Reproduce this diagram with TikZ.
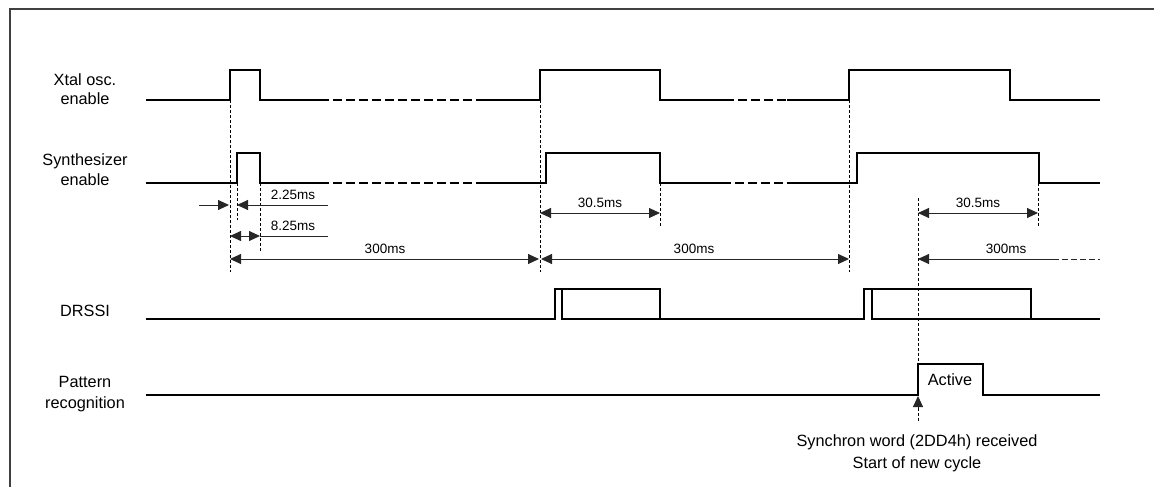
\documentclass[tikz,border=0pt]{standalone}
\usepackage{fontspec}
\setmainfont{Liberation Sans}
\usetikzlibrary{arrows.meta}

\begin{document}
\begin{tikzpicture}[
  x=1pt,
  y=-1pt,
  line join=miter,
  frameline/.style={draw=black!75,line width=1.2pt},
  signal/.style={draw=black,line width=1.2pt},
  gapline/.style={draw=black,line width=1.2pt,dash pattern=on 9pt off 4pt},
  guide/.style={draw=black,line width=0.8pt,dash pattern=on 3pt off 2pt},
  dim/.style={draw=black!85,line width=1pt},
  tip/.tip={Triangle[length=11pt,width=10pt]},
  rowlabel/.style={font=\fontsize{16.3}{19}\selectfont,inner sep=0pt},
  dimlabel/.style={font=\fontsize{13.5}{16}\selectfont,inner sep=0pt},
  note/.style={font=\fontsize{16.3}{19}\selectfont,inner sep=0pt}
]
  \useasboundingbox (0,0) rectangle (1154,487);
  \draw[frameline] (10,487) -- (10,9) -- (1154,9);

  % Row labels.
  \node[rowlabel] (xtal1) at (85,80) {Xtal osc.};
  \node[rowlabel] (xtal2) at (85,99) {enable};
  \node[rowlabel] (synth1) at (85,161) {Synthesizer};
  \node[rowlabel] (synth2) at (85,180) {enable};
  \node[rowlabel] (drssi) at (85,311) {DRSSI};
  \node[rowlabel] (patt1) at (85,382) {Pattern};
  \node[rowlabel] (patt2) at (85,404) {recognition};

  % Xtal oscillator enable.
  \draw[signal] (146,100) -- (230,100) -- (230,70) -- (260,70) -- (260,100) -- (320,100);
  \draw[gapline] (320,100) -- (480,100);
  \draw[signal] (480,100) -- (540,100) -- (540,70) -- (660,70) -- (660,100) -- (725,100);
  \draw[gapline] (725,100) -- (787,100);
  \draw[signal] (787,100) -- (849,100) -- (849,70) -- (1010,70) -- (1010,100) -- (1100,100);

  % Synthesizer enable.
  \draw[signal] (146,183) -- (237,183) -- (237,153) -- (260,153) -- (260,183) -- (320,183);
  \draw[gapline] (320,183) -- (480,183);
  \draw[signal] (480,183) -- (546,183) -- (546,153) -- (660,153) -- (660,183) -- (722,183);
  \draw[gapline] (722,183) -- (788,183);
  \draw[signal] (788,183) -- (857,183) -- (857,153) -- (1039,153) -- (1039,183) -- (1100,183);

  % DRSSI.
  \draw[signal] (146,319) -- (555,319) -- (555,289) -- (660,289) -- (660,319) -- (864,319)
    -- (864,289) -- (1031,289) -- (1031,319) -- (1100,319);
  \draw[signal] (562,289) -- (562,319) -- (660,319);
  \draw[signal] (872,289) -- (872,319) -- (1031,319);

  % Pattern recognition.
  \draw[signal] (146,395) -- (918,395) -- (918,364) -- (983,364) -- (983,395) -- (1100,395);
  \node[note] (active) at (950,380) {Active};

  % Dashed timing guides.
  \foreach \x/\ya/\yb in {230/100/272,237/183/220,260/183/252,540/100/272,
                          660/183/227,849/100/272,918/198/422,1038/183/227} {
    \draw[guide] (\x,\ya) -- (\x,\yb);
  }

  % Timing dimensions.
  \coordinate (a0) at (199,205);
  \coordinate (a1) at (229,205);
  \coordinate (a2) at (237,205);
  \coordinate (a3) at (328,205);
  \draw[dim,-tip] (a0) -- (a1);
  \draw[dim,-tip] (a3) -- (a2);
  \node[dimlabel] (t225) at (293,195) {2.25ms};

  \coordinate (b0) at (230,236);
  \coordinate (b1) at (260,236);
  \coordinate (b2) at (328,236);
  \draw[dim,tip-tip] (b0) -- (b1);
  \draw[dim] (b1) -- (b2);
  \node[dimlabel] (t825) at (293,226) {8.25ms};

  \coordinate (c0) at (230,259);
  \coordinate (c1) at (539,259);
  \coordinate (c2) at (541,259);
  \coordinate (c3) at (849,259);
  \coordinate (c4) at (918,259);
  \coordinate (c5) at (1053,259);
  \coordinate (c6) at (1100,259);
  \draw[dim,tip-tip] (c0) -- (c1);
  \draw[dim,tip-tip] (c2) -- (c3);
  \draw[dim,tip-] (c4) -- (c5);
  \draw[dim,dash pattern=on 6pt off 3pt] (c5) -- (c6);
  \node[dimlabel] (t300a) at (385,249) {300ms};
  \node[dimlabel] (t300b) at (694,249) {300ms};
  \node[dimlabel] (t300c) at (1006,249) {300ms};

  \coordinate (d0) at (540,213);
  \coordinate (d1) at (660,213);
  \coordinate (d2) at (918,213);
  \coordinate (d3) at (1038,213);
  \draw[dim,tip-tip] (d0) -- (d1);
  \draw[dim,tip-tip] (d2) -- (d3);
  \node[dimlabel] (t305a) at (600,203) {30.5ms};
  \node[dimlabel] (t305b) at (978,203) {30.5ms};

  % Synchron word marker.
  \coordinate (s0) at (918,408);
  \coordinate (s1) at (918,396);
  \draw[dim,-tip] (s0) -- (s1);
  \node[note] (sync1) at (917,442) {Synchron word (2DD4h) received};
  \node[note] (sync2) at (917,464) {Start of new cycle};
\end{tikzpicture}
\end{document}
